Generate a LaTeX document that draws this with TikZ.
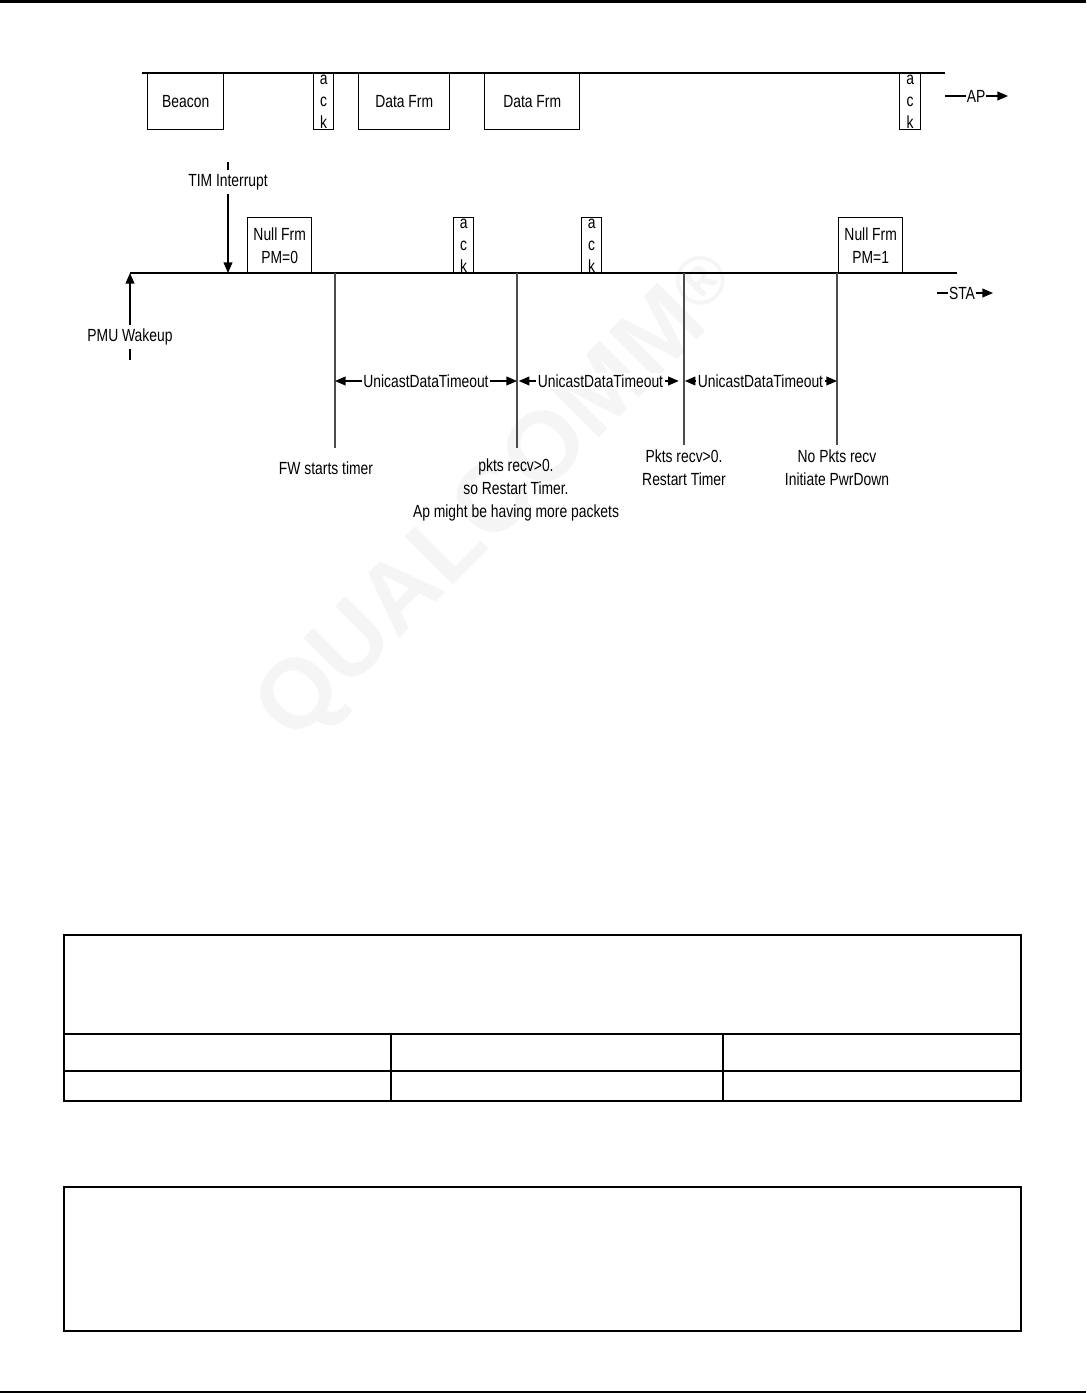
\documentclass[tikz,border=0pt]{standalone}
\usepackage{fontspec}
\setmainfont{Liberation Sans}[FakeStretch=0.79]
\newfontfamily\wmfont{Liberation Sans}
\usetikzlibrary{arrows.meta}

\tikzset{
  frm/.style={draw,line width=0.8pt,anchor=north west,minimum height=1.12cm,inner sep=0pt,align=center},
  ackbox/.style={frm,minimum width=0.4cm,font=\fontsize{10}{12.5}\selectfont},
  lbl/.style={inner sep=2pt,align=center},
  tag/.style={inner sep=0.5pt},
  sig/.style={line width=0.7pt},
  divline/.style={line width=0.6pt,black!70},
  tmo/.style={<->,line width=0.7pt},
  tmolbl/.style={fill=white,inner sep=1pt},
  tbl/.style={line width=1pt}
}

\begin{document}
\begin{tikzpicture}[x=0.02cm,y=-0.02cm,font=\fontsize{10}{13}\selectfont,>={Triangle[length=6pt,width=5pt]}]
  \useasboundingbox (0,0) rectangle (1086,1393);
  % watermark
  \node[rotate=45,text=black!4,font=\fontsize{56}{56}\selectfont\wmfont\bfseries] (wm) at (503,500) {QUALCOMM\textsuperscript{®}};
  % page rules
  \draw[line width=0.06cm] (0,1.5) -- (1086,1.5);
  \draw[line width=0.04cm] (0,1392) -- (1086,1392);

  % AP side
  \coordinate (apL) at (142,73);
  \coordinate (apR) at (945,73);
  \draw[line width=1pt] (apL) -- (apR);
  \node[frm,minimum width=1.52cm] (beacon) at (147,73) {Beacon};
  \node[ackbox] (apack1) at (313,73) {a\\c\\k};
  \node[frm,minimum width=1.82cm] (data1) at (358,73) {Data Frm};
  \node[frm,minimum width=1.9cm] (data2) at (484,73) {Data Frm};
  \node[ackbox,minimum width=0.42cm] (apack2) at (899,73) {a\\c\\k};
  \node[tag] (ap) at (976,96) {AP};
  \coordinate (apA) at (945,96);
  \coordinate (apB) at (1008,96);
  \draw[sig] (apA) -- (ap.west);
  \draw[sig,->] (ap.east) -- (apB);

  % STA side
  \coordinate (staL) at (130,273);
  \coordinate (staR) at (957,273);
  \draw[line width=0.8pt] (staL) -- (staR);
  \node[frm,minimum width=1.28cm] (null0) at (247,217) {Null Frm\\PM=0};
  \node[ackbox] (staack1) at (453,217) {a\\c\\k};
  \node[ackbox] (staack2) at (581,217) {a\\c\\k};
  \node[frm,minimum width=1.28cm] (null1) at (838,217) {Null Frm\\PM=1};
  \node[tag] (sta) at (962,293) {STA};
  \coordinate (staA) at (937,293);
  \coordinate (staB) at (993,293);
  \draw[sig] (staA) -- (sta.west);
  \draw[sig,->] (sta.east) -- (staB);

  % wakeup and TIM
  \node[lbl] (pmu) at (130,337) {PMU Wakeup};
  \coordinate (pmuB) at (130,360);
  \draw[sig] (pmuB) -- (pmu.south);
  \draw[sig,->] (pmu.north) -- (staL);
  \node[lbl] (tim) at (228,182) {TIM Interrupt};
  \coordinate (timT) at (228,162);
  \coordinate (timS) at (228,273);
  \draw[sig] (timT) -- (tim.north);
  \draw[sig,->] (tim.south) -- (timS);

  % timer marks
  \foreach \n/\x/\e in {d1/335/448,d2/517/448,d3/684/445,d4/837/445}{
    \coordinate (\n t) at (\x,273);
    \coordinate (\n b) at (\x,\e);
    \coordinate (\n m) at (\x,381);
    \draw[divline] (\n t) -- (\n b);}
  \draw[tmo] (d1m) -- (d2m) node[tmolbl,midway] (tmo1) {UnicastDataTimeout};
  \draw[tmo,shorten <=1pt,shorten >=3pt] (d2m) -- (d3m) node[tmolbl,midway] (tmo2) {UnicastDataTimeout};
  \draw[tmo,shorten <=0.5pt] (d3m) -- (d4m) node[tmolbl,midway] (tmo3) {UnicastDataTimeout};

  \node[lbl] (fw) at (326,468) {FW starts timer};
  \node[lbl] (pk1) at (516,490) {pkts recv>0.\\so Restart Timer.\\Ap might be having more packets};
  \node[lbl] (pk2) at (684,468) {Pkts recv>0.\\Restart Timer};
  \node[lbl] (nopk) at (837,468) {No Pkts recv\\Initiate PwrDown};

  % empty tables
  \draw[tbl] (64,935) rectangle (1021,1101);
  \draw[tbl] (64,1034) -- (1021,1034) (64,1071) -- (1021,1071);
  \draw[line width=0.6pt] (391,1034) -- (391,1101) (723,1034) -- (723,1101);
  \draw[tbl] (64,1187) rectangle (1021,1331);
\end{tikzpicture}
\end{document}
